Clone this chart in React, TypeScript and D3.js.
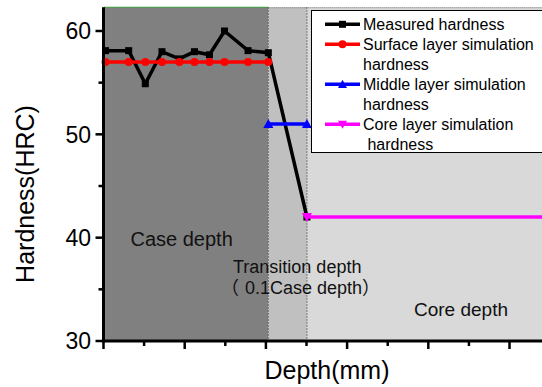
import React from "react";
import * as d3 from "d3";

const measuredX = [0.05, 0.62, 1.03, 1.44, 1.87, 2.24, 2.61, 2.98, 3.56, 4.06, 5.01];
const measuredY = [58.1, 58.1, 54.9, 58.0, 57.3, 58.0, 57.7, 60.0, 58.1, 57.9, 42.0];
const surfaceX = [0.05, 0.62, 1.03, 1.44, 1.87, 2.24, 2.61, 2.98, 3.56, 4.06];
const surfaceY = [57, 57, 57, 57, 57, 57, 57, 57, 57, 57];
const middleX = [4.06, 5.01];
const middleY = [51, 51];
const coreX = [5.01, 11.2];
const coreY = [42, 42];
const regionBounds = [0, 4.06, 5.01, 11];
const regionNames = ["Case depth", "Transition depth", "Core depth"];
const yTicks = [30, 40, 50, 60];
const yMinorTicks = [35, 45, 55];
const xTicks = [0, 2, 4, 6, 8, 10];
const xMinorTicks = [1, 3, 5, 7, 9];
const legendLabels = [
  ["Measured hardness"],
  ["Surface layer simulation", "hardness"],
  ["Middle layer simulation", "hardness"],
  ["Core layer simulation", " hardness"],
];

const FONT = "'Liberation Sans', Arial, sans-serif";
const CJK = "'Noto Sans CJK SC', sans-serif";

export default function App() {
  const x = d3.scaleLinear().domain([0, 10.8]).range([103.5, 542]);
  const y = d3.scaleLinear().domain([30, 60]).range([341, 31]);
  const top = y(62.3);
  const bottom = y(30);
  const line = d3
    .line<[number, number]>()
    .x((d) => x(d[0]))
    .y((d) => y(d[1]));
  const pts = (xs: number[], ys: number[]) => xs.map((v, i) => [v, ys[i]] as [number, number]);
  const fills = ["#808080", "#c0c0c0", "#d9d9d9"];

  const triUp = (cx: number, cy: number, s = 5) =>
    `M${cx},${cy - s}L${cx + s},${cy + s * 0.8}L${cx - s},${cy + s * 0.8}Z`;
  const triDown = (cx: number, cy: number, s = 5) =>
    `M${cx},${cy + s}L${cx + s},${cy - s * 0.8}L${cx - s},${cy - s * 0.8}Z`;

  const legendColors = ["#000000", "#ff0000", "#0000ff", "#ff00ff"];
  const legendRows = [0, 1, 3, 5];

  return (
    <svg
      width={542}
      height={387}
      style={{ position: "absolute", left: 0, top: 0, background: "#fff" }}
      fontFamily={FONT}
    >
      {/* regions */}
      {fills.map((f, i) => {
        const x0 = x(regionBounds[i]);
        const x1 = Math.min(x(regionBounds[i + 1]), 560);
        return <rect key={i} x={x0} y={top} width={x1 - x0} height={bottom - top} fill={f} />;
      })}
      <line x1={x(regionBounds[0])} x2={x(regionBounds[1])} y1={top} y2={top} stroke="#3a9a3a" strokeWidth={1.2} />
      <line x1={x(regionBounds[1])} x2={560} y1={top + 0.5} y2={top + 0.5} stroke="#777" strokeDasharray="1,1" />
      {[regionBounds[1], regionBounds[2]].map((b, i) => (
        <line key={i} x1={x(b)} x2={x(b)} y1={top} y2={bottom} stroke="#555" strokeWidth={1} strokeDasharray="1.5,1.5" />
      ))}

      {/* region labels */}
      <text x={130.5} y={246} fontSize={20} fill="#111">{regionNames[0]}</text>
      <text x={233} y={272.5} fontSize={18} fill="#111">{regionNames[1]}</text>
      <text x={221} y={293.5} fontSize={18} fill="#111">
        <tspan fontFamily={CJK}>（</tspan>
        <tspan dx={6}>0.1Case depth</tspan>
        <tspan fontFamily={CJK}>）</tspan>
      </text>
      <text x={414} y={316} fontSize={19} fill="#111">{regionNames[2]}</text>

      {/* series */}
      <path d={line(pts(measuredX, measuredY)) || ""} fill="none" stroke="#000" strokeWidth={3.5} strokeLinejoin="miter" />
      {pts(measuredX, measuredY).map((p, i) => (
        <rect key={i} x={x(p[0]) - 3.5} y={y(p[1]) - 3.5} width={7} height={7} fill="#000" />
      ))}
      <path d={line(pts(surfaceX, surfaceY)) || ""} fill="none" stroke="#ff0000" strokeWidth={3.5} />
      {pts(surfaceX, surfaceY).map((p, i) => (
        <circle key={i} cx={x(p[0])} cy={y(p[1])} r={4} fill="#ff0000" />
      ))}
      <path d={line(pts(middleX, middleY)) || ""} fill="none" stroke="#0000ff" strokeWidth={3.5} />
      {pts(middleX, middleY).map((p, i) => (
        <path key={i} d={triUp(x(p[0]), y(p[1]))} fill="#0000ff" />
      ))}
      <path d={line(pts(coreX, coreY)) || ""} fill="none" stroke="#ff00ff" strokeWidth={3.5} />
      {pts(coreX, coreY).map((p, i) => (
        <path key={i} d={triDown(x(p[0]), y(p[1]))} fill="#ff00ff" />
      ))}

      {/* legend */}
      <rect x={311.5} y={10.5} width={250} height={142} fill="#fff" stroke="#000" strokeWidth={1} />
      {legendLabels.map((lines, i) => {
        const row = legendRows[i];
        const cy = 24.3 + row * 20;
        const c = legendColors[i];
        const mx = 342.5;
        return (
          <g key={i}>
            <line x1={325} x2={360} y1={cy} y2={cy} stroke={c} strokeWidth={3.5} />
            {i === 0 && <rect x={mx - 3.5} y={cy - 3.5} width={7} height={7} fill={c} />}
            {i === 1 && <circle cx={mx} cy={cy} r={4} fill={c} />}
            {i === 2 && <path d={triUp(mx, cy, 4.5)} fill={c} />}
            {i === 3 && <path d={triDown(mx, cy, 4.5)} fill={c} />}
            {lines.map((t, j) => (
              <text key={j} x={363} y={cy + 6 + j * 20} fontSize={16} fill="#000" style={{ whiteSpace: "pre" }}>
                {t}
              </text>
            ))}
          </g>
        );
      })}

      {/* axes */}
      <line x1={x(0)} x2={x(0)} y1={top} y2={bottom + 1.5} stroke="#000" strokeWidth={3} />
      <line x1={x(0) - 1.5} x2={560} y1={bottom} y2={bottom} stroke="#000" strokeWidth={3} />
      {yTicks.map((t) => (
        <g key={t}>
          <line x1={x(0) - 8} x2={x(0)} y1={y(t)} y2={y(t)} stroke="#000" strokeWidth={2.5} />
          <text x={91} y={y(t)} dy="0.36em" textAnchor="end" fontSize={23} fill="#000">
            {t}
          </text>
        </g>
      ))}
      {yMinorTicks.map((t) => (
        <line key={t} x1={x(0) - 5} x2={x(0)} y1={y(t)} y2={y(t)} stroke="#000" strokeWidth={2.5} />
      ))}
      {xTicks.map((t) => (
        <line key={t} x1={x(t)} x2={x(t)} y1={bottom} y2={bottom + 8} stroke="#000" strokeWidth={2.5} />
      ))}
      {xMinorTicks.map((t) => (
        <line key={t} x1={x(t)} x2={x(t)} y1={bottom} y2={bottom + 5} stroke="#000" strokeWidth={2.5} />
      ))}
      <text x={327} y={379} textAnchor="middle" fontSize={25} fill="#000">Depth(mm)</text>
      <text transform="translate(33.5,194) rotate(-90)" textAnchor="middle" fontSize={25} fill="#000">
        Hardness(HRC)
      </text>
    </svg>
  );
}
